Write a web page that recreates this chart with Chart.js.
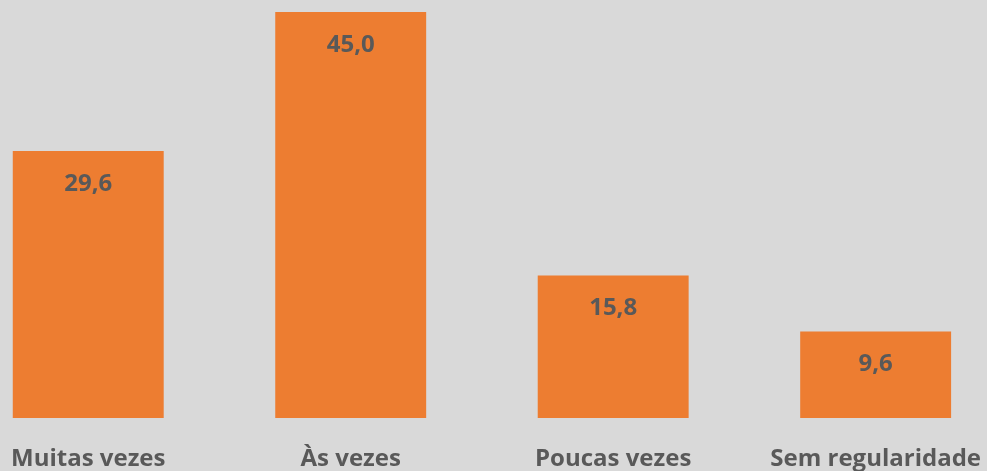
<!DOCTYPE html>
<html>
<head>
<meta charset="utf-8">
<script src="https://cdn.jsdelivr.net/npm/chart.js@4.4.0/dist/chart.umd.min.js"></script>
<style>
html,body{margin:0;padding:0;background:#d9d9d9;overflow:hidden;}
#wrap{position:absolute;left:-43px;top:0;width:1051px;height:471px;}
</style>
</head>
<body>
<div id="wrap"><canvas id="c"></canvas></div>
<script>
// categorias e valores (%)
const categorias = ['Muitas vezes', 'Às vezes', 'Poucas vezes', 'Sem regularidade'];
const valores = [29.6, 45.0, 15.8, 9.6];

const corBarra = '#ed7d31';
const corTexto = '#595959';

// rótulos dentro da barra, perto do topo
const rotulos = {
  id: 'rotulos',
  afterDatasetsDraw(chart){
    const ctx = chart.ctx;
    const meta = chart.getDatasetMeta(0);
    ctx.save();
    ctx.font = 'bold 24px "Open Sans"';
    ctx.fillStyle = corTexto;
    ctx.textAlign = 'center';
    ctx.textBaseline = 'middle';
    meta.data.forEach((bar, i)=>{
      const txt = valores[i].toFixed(1).replace('.', ',');
      ctx.fillText(txt, bar.x, bar.y + 33);
    });
    ctx.restore();
  }
};

new Chart(document.getElementById('c'), {
  type: 'bar',
  data: {
    labels: categorias,
    datasets: [{
      data: valores,
      backgroundColor: corBarra,
      borderWidth: 0,
      categoryPercentage: 1,
      barPercentage: 0.575
    }]
  },
  options: {
    responsive: true,
    maintainAspectRatio: false,
    animation: false,
    layout: { padding: { top: 12, left: 0, right: 0, bottom: 0 } },
    plugins: { legend: { display: false }, tooltip: { enabled: false } },
    scales: {
      y: { display: false, min: 0, max: 45 },
      x: {
        grid: { display: false, drawTicks: false },
        border: { display: false },
        ticks: {
          color: corTexto,
          font: { family: '"Open Sans"', size: 24, weight: 'bold' },
          padding: 27,
          maxRotation: 0,
          autoSkip: false
        },
        afterFit(scale){ scale.height = 53; }
      }
    }
  },
  plugins: [rotulos]
});
</script>
</body>
</html>
